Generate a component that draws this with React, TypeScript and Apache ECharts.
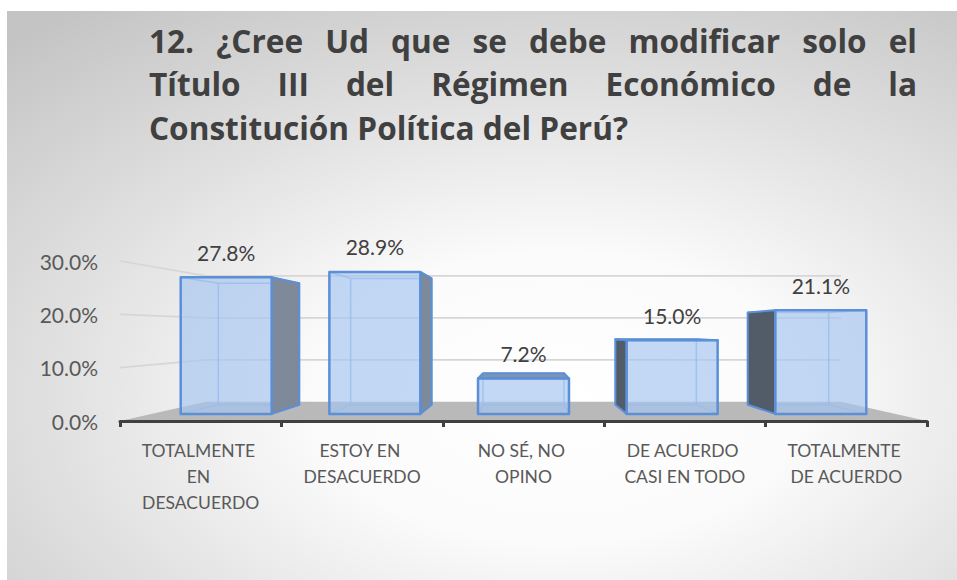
import React, { useEffect, useRef } from "react";
import * as echarts from "echarts";

const TITLE_LINES = [
  "12. ¿Cree Ud que se debe modificar solo el",
  "Título III del Régimen Económico de la",
  "Constitución Política del Perú?",
];
const TITLE_JUSTIFY = [true, true, false];

const categories = [
  "TOTALMENTE EN DESACUERDO",
  "ESTOY EN DESACUERDO",
  "NO SÉ, NO OPINO",
  "DE ACUERDO CASI EN TODO",
  "TOTALMENTE DE ACUERDO",
];
const values = [0.278, 0.289, 0.072, 0.15, 0.211];
const yTicks = [0, 0.1, 0.2, 0.3];

// view / perspective settings (styling)
const VP_CAT = 2;
const VP_VALUE = 0.169;
const F_FRONT = 0.921;
const F_BACK = 0.82;
const F_WALL = 0.787;
const BAR_RATIO = 0.612;

const FONT = "Lato";
const TITLE_FONT = "Open Sans";
const TITLE_LEFT = 149;
const TITLE_RIGHT = 917;
const TITLE_LAST_WIDTH = 479;
const TITLE_Y = [40, 83.5, 127];

function measure(text: string, font: string) {
  const c = document.createElement("canvas");
  const ctx = c.getContext("2d")!;
  ctx.font = font;
  return ctx.measureText(text).width;
}

function titleGraphics() {
  const base = measure(TITLE_LINES[2], `bold 30px "${TITLE_FONT}"`);
  const size = Math.max(24, Math.min(36, (30 * TITLE_LAST_WIDTH) / base));
  const font = `bold ${size}px "${TITLE_FONT}"`;
  const out: any[] = [];
  TITLE_LINES.forEach((line, li) => {
    const style = {
      fontFamily: TITLE_FONT,
      fontWeight: "bold",
      fontSize: size,
      fill: "#404040",
      verticalAlign: "middle",
      align: "left",
    };
    if (!TITLE_JUSTIFY[li]) {
      out.push({ type: "text", x: TITLE_LEFT, y: TITLE_Y[li], z: 10, style: { ...style, text: line } });
      return;
    }
    const words = line.split(" ");
    const widths = words.map((w) => measure(w, font));
    const total = widths.reduce((a, b) => a + b, 0);
    const gap = (TITLE_RIGHT - TITLE_LEFT - total) / (words.length - 1);
    let x = TITLE_LEFT;
    words.forEach((w, wi) => {
      out.push({ type: "text", x, y: TITLE_Y[li], z: 10, style: { ...style, text: w } });
      x += widths[wi] + gap;
    });
  });
  return out;
}

export default function App() {
  const ref = useRef<HTMLDivElement>(null);
  useEffect(() => {
    const chart = echarts.init(ref.current!, null, { renderer: "svg" });

    const project = (vp: number[], x: number, y: number, f: number) => [
      vp[0] + f * (x - vp[0]),
      vp[1] + f * (y - vp[1]),
    ];

    const wallSeries = {
      type: "custom",
      z: 1,
      silent: true,
      data: yTicks.map((v) => [0, v]),
      renderItem: (params: any, api: any) => {
        const cs = params.coordSys;
        const v = api.value(1);
        const vp = api.coord([VP_CAT, VP_VALUE]);
        const y = api.coord([0, v])[1];
        const xl = cs.x;
        const xr = cs.x + cs.width;
        const bl = project(vp, xl, y, F_WALL);
        const br = project(vp, xr, y, F_WALL);
        if (v === 0) {
          return {
            type: "polygon",
            shape: { points: [[xl, y], [xr, y], br, bl] },
            style: { fill: "#b9b9b9" },
          };
        }
        return {
          type: "polyline",
          shape: { points: [[xl, y], bl, br] },
          style: { stroke: "#d6d6d6", lineWidth: 1.6, fill: null },
        };
      },
    };

    const barSeries = {
      type: "custom",
      z: 3,
      data: values.map((v, i) => [i, v]),
      renderItem: (params: any, api: any) => {
        const i = api.value(0);
        const v = api.value(1);
        const vp = api.coord([VP_CAT, VP_VALUE]);
        const band = api.size([1, 0])[0];
        const half = (band * BAR_RATIO) / 2;
        const [cx, yTop] = api.coord([i, v]);
        const yBase = api.coord([i, 0])[1];
        const xl = cx - half;
        const xr = cx + half;
        const P = (x: number, y: number, f: number) => project(vp, x, y, f);
        const FTL = P(xl, yTop, F_FRONT), FTR = P(xr, yTop, F_FRONT);
        const FBL = P(xl, yBase, F_FRONT), FBR = P(xr, yBase, F_FRONT);
        const BTL = P(xl, yTop, F_BACK), BTR = P(xr, yTop, F_BACK);
        const BBL = P(xl, yBase, F_BACK), BBR = P(xr, yBase, F_BACK);
        const hidden = { stroke: "rgba(120,165,228,0.75)", lineWidth: 1.5, fill: null };
        const edge = "#5b8fd8";
        const children: any[] = [
          { type: "polyline", shape: { points: [BTL, BTR, BBR, BBL, BTL] }, style: hidden },
          { type: "line", shape: { x1: FTL[0], y1: FTL[1], x2: BTL[0], y2: BTL[1] }, style: hidden },
          { type: "line", shape: { x1: FTR[0], y1: FTR[1], x2: BTR[0], y2: BTR[1] }, style: hidden },
          { type: "line", shape: { x1: FBL[0], y1: FBL[1], x2: BBL[0], y2: BBL[1] }, style: hidden },
          { type: "line", shape: { x1: FBR[0], y1: FBR[1], x2: BBR[0], y2: BBR[1] }, style: hidden },
        ];
        if (cx < vp[0] - 0.5) {
          children.push({
            type: "polygon",
            shape: { points: [FTR, BTR, BBR, FBR] },
            style: { fill: "#7e8999", stroke: edge, lineWidth: 2, lineJoin: "round" },
          });
        } else if (cx > vp[0] + 0.5) {
          children.push({
            type: "polygon",
            shape: { points: [FTL, BTL, BBL, FBL] },
            style: { fill: "#525b68", stroke: edge, lineWidth: 2, lineJoin: "round" },
          });
        }
        if (FTL[1] > vp[1]) {
          children.push({
            type: "polygon",
            shape: { points: [FTL, FTR, BTR, BTL] },
            style: { fill: "#7f93b3", stroke: edge, lineWidth: 2, lineJoin: "round" },
          });
        }
        children.push({
          type: "polygon",
          shape: { points: [FTL, FTR, FBR, FBL] },
          style: { fill: "rgba(166,198,240,0.68)", stroke: edge, lineWidth: 2.5, lineJoin: "round" },
        });
        children.push({
          type: "text",
          x: (FTL[0] + FTR[0]) / 2,
          y: FTL[1] - 25,
          style: {
            text: (v * 100).toFixed(1) + "%",
            fontFamily: FONT,
            fontSize: 21,
            fill: "#404040",
            align: "center",
            verticalAlign: "middle",
          },
        });
        return { type: "group", children };
      },
    };

    chart.setOption({
      animation: false,
      graphic: [
        {
          type: "rect",
          x: 7,
          y: 11,
          z: -10,
          silent: true,
          shape: { width: 950, height: 569 },
          style: {
            fill: new echarts.graphic.RadialGradient(0.58, 0.68, 0.85, [
              { offset: 0, color: "#ffffff" },
              { offset: 0.3, color: "#fbfbfb" },
              { offset: 0.62, color: "#e1e1e1" },
              { offset: 1, color: "#c4c4c4" },
            ]),
          },
        },
        ...titleGraphics(),
      ],
      grid: { left: 120, right: 30, top: 261, bottom: 159 },
      xAxis: {
        type: "category",
        data: categories,
        z: 10,
        axisLine: { show: true, lineStyle: { color: "#404040", width: 3 } },
        axisTick: { show: true, length: 6, lineStyle: { color: "#404040", width: 3 } },
        axisLabel: {
          interval: 0,
          margin: 16,
          color: "#595959",
          fontFamily: FONT,
          fontSize: 17.5,
          lineHeight: 26,
          width: 135,
          overflow: "break",
        },
        splitLine: { show: false },
      },
      yAxis: {
        type: "value",
        min: 0,
        max: 0.3,
        interval: 0.1,
        axisLine: { show: false },
        axisTick: { show: false },
        splitLine: { show: false },
        axisLabel: {
          margin: 22,
          color: "#595959",
          fontFamily: FONT,
          fontSize: 21,
          formatter: (v: number) => (v * 100).toFixed(1) + "%",
        },
      },
      series: [wallSeries, barSeries],
    });
    return () => chart.dispose();
  }, []);
  return (
    <div
      ref={ref}
      style={{ position: "absolute", left: 0, top: 0, width: 957, height: 580 }}
    />
  );
}
